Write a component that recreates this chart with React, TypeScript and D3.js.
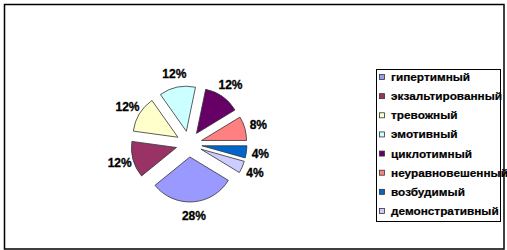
import React from "react";
import * as d3 from "d3";

const categories = [
  "гипертимный",
  "экзальтированный",
  "тревожный",
  "эмотивный",
  "циклотимный",
  "неуравновешенный",
  "возбудимый",
  "демонстративный",
];
const values = [28, 12, 12, 12, 12, 8, 4, 4];
const colors = ["#9999FF", "#993366", "#FFFFCC", "#CCFFFF", "#660066", "#FF8080", "#0066CC", "#CCCCFF"];

export default function App() {
  const W = 507, H = 250;
  const cx = 189, cy = 144, R = 45, explode = 13, labelR = 72;
  const total = d3.sum(values);
  const start = Math.PI / 2 + ((values[6] + values[7]) / total) * 2 * Math.PI;
  const pie = d3.pie<number>().sort(null).value((d) => d).startAngle(start).endAngle(start + 2 * Math.PI);
  const arcs = pie(values);
  const arc = d3.arc<d3.PieArcDatum<number>>().innerRadius(0).outerRadius(R);
  const legX = 376, legY = 69, legW = 124, legH = 152;
  const itemY = d3.scaleLinear().domain([0, categories.length - 1]).range([77, 211]);
  return (
    <svg width={W} height={H} style={{ position: "absolute", left: 0, top: 0 }} fontFamily="'Liberation Sans', Arial, sans-serif">
      <rect x={0} y={0} width={W} height={H} fill="#fff" />
      <rect x={4.5} y={4.5} width={499.5} height={244.5} fill="none" stroke="#000" strokeWidth={1.5} />
      <g transform={`translate(${cx},${cy})`}>
        {arcs.map((a, i) => {
          const mid = (a.startAngle + a.endAngle) / 2;
          const dx = Math.sin(mid) * explode, dy = -Math.cos(mid) * explode;
          const lx = Math.sin(mid) * labelR, ly = -Math.cos(mid) * labelR;
          return (
            <g key={i}>
              <path d={arc(a) || ""} transform={`translate(${dx},${dy})`} fill={colors[i]} stroke="#333" strokeWidth={0.8} />
              <text x={lx} y={ly} textAnchor="middle" dominantBaseline="central" fontSize={12} fontWeight="bold" fill="#000" stroke="#000" strokeWidth={0.3}>
                {values[i]}%
              </text>
            </g>
          );
        })}
      </g>
      <rect x={legX + 0.5} y={legY + 0.5} width={legW} height={legH} fill="#fff" stroke="#000" strokeWidth={1} />
      {categories.map((c, i) => (
        <g key={c}>
          <rect x={379.5} y={itemY(i) - 2.5} width={5} height={5} fill={colors[i]} stroke="#333" strokeWidth={0.8} />
          <text x={391} y={itemY(i)} dominantBaseline="central" fontSize={11.8} fontWeight="bold" fill="#000" stroke="#000" strokeWidth={0.2}>
            {c}
          </text>
        </g>
      ))}
    </svg>
  );
}
